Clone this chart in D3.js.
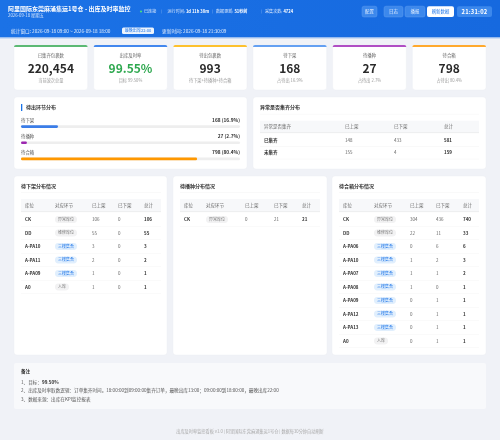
<!DOCTYPE html>
<html lang="zh"><head><meta charset="utf-8">
<script src="https://cdn.jsdelivr.net/npm/d3@7/dist/d3.min.js"></script>
<style>html,body{margin:0;padding:0;background:#f0f2f7;overflow:hidden}svg{display:block;filter:blur(.3px)}text{font-family:"Noto Sans CJK SC","Noto Sans",sans-serif}</style>
</head><body><div id="c"></div>
<script>
const kpiLabels=["已集齐包裹数","出库及时率","待出包裹数","待下架","待播种","待合箱"];
const kpiValues=["220,454","99.55%","993","168","27","798"];
const kpiSubs=["当前波次总量","目标 99.50%","待下架+待播种+待合箱","占待出 16.9%","占待出 2.7%","占待出 80.4%"];
const kpiColors=["#5cb974","#4287ee","#fdc12e","#64a0f2","#b04fc4","#ffa92e"];
const stageNames=["待下架","待播种","待合箱"];
const stageCounts=[168,27,798];
const stageShares=[16.9,2.7,80.4];
const stageColors=["#3b7de8","#9c27b0","#ff9800"];
const abnormalRows=[["已集齐",148,433,581],["未集齐",155,4,159]];
const abnormalHead=["异常是否集齐","已上架","已下架","总计"];
const tableHead=["库位","对应环节","已上架","已下架","总计"];
const pickRows=[["CK","异常库位",106,0,106],["DD","维修库位",55,0,55],["A-PA10","三楼集合",3,0,3],["A-PA11","三楼集合",2,0,2],["A-PA09","三楼集合",1,0,1],["A0","入库",1,0,1]];
const seedRows=[["CK","异常库位",0,21,21]];
const packRows=[["CK","异常库位",304,436,740],["DD","维修库位",22,11,33],["A-PA06","三楼集合",0,6,6],["A-PA10","三楼集合",1,2,3],["A-PA07","三楼集合",1,1,2],["A-PA08","三楼集合",1,0,1],["A-PA09","三楼集合",0,1,1],["A-PA12","三楼集合",0,1,1],["A-PA13","三楼集合",0,1,1],["A0","入库",0,1,1]];
const noteLines=["1、目标：","2、出库及时率取数逻辑：订单集齐时间。18:00:00到09:00:00集齐订单，最晚出库13:00；09:00:00到18:00:00，最晚出库22:00","3、数据来源：出库在KPI监控报表"];

const W=500,H=440;
const svg=d3.select("#c").append("svg").attr("width",W).attr("height",H).attr("viewBox",[0,0,W,H]);
const defs=svg.append("defs");
const g=defs.append("linearGradient").attr("id","hd").attr("x1",0).attr("x2",1).attr("y1",0).attr("y2",0);
g.append("stop").attr("offset",0).attr("stop-color","#1b72e6");g.append("stop").attr("offset",1).attr("stop-color","#1669df");
const T=(x,y,s,o={})=>svg.append("text").attr("x",x).attr("y",y).attr("dy","0.35em").attr("font-size",o.fs||4).attr("fill",o.c||"#333").attr("font-weight",o.w||400).attr("text-anchor",o.a||"start").attr("opacity",o.op==null?1:o.op).text(s);
const R=(x,y,w,h,f,r=0,o={})=>svg.append("rect").attr("x",x).attr("y",y).attr("width",w).attr("height",h).attr("rx",r).attr("fill",f).attr("stroke",o.s||"none").attr("stroke-width",o.sw||0).attr("opacity",o.op==null?1:o.op);
const card=(x,y,w,h)=>R(x,y,w,h,"#fff",3,{s:"#eceef3",sw:.4});

R(0,0,W,H,"#f0f2f7");
// header
R(0,0,W,37.5,"url(#hd)");
R(0,37.5,W,1,"#a9c8f2");
T(8,9,"阿里国际东莞麻涌集运1号仓 - 出库及时率监控",{fs:6,w:700,c:"#fff"});
T(8,15.7,"2026-09-18 星期五",{fs:4.3,c:"#d5e5fb"});
svg.append("circle").attr("cx",141).attr("cy",11.5).attr("r",1.1).attr("fill","#4ade80");
T(144,11.5,"已连接",{fs:4.1,c:"#e3eefd"});
const headerStats=[[167.5,"运行时间: ","1d 11h 38m"],[216,"数据更新: ","51秒前"],[265,"采集次数: ","4724"]];
headerStats.forEach(([x,a,b])=>{const t=T(x,11.5,a,{fs:4.1,c:"#dbe8fc"});t.append("tspan").attr("font-weight",700).attr("fill","#fff").text(b);});
[161.5,212.5,261].forEach(x=>R(x,9.5,.3,4,"#8fb8f2"));
[[362,15,"配置"],[384,19,"日志"],[405,20,"播报"]].forEach(([x,w,s])=>{R(x,6.2,w,10.8,"#3c88ec",2,{s:"#6aa3f0",sw:.4});T(x+w/2,11.6,s,{fs:4.4,c:"#e6f0fe",a:"middle"});});
R(427,6.2,27,10.8,"#fff",2);T(440.5,11.6,"刷新数据",{fs:4.4,c:"#1a73e8",a:"middle"});
R(457,6.2,35,10.8,"#3c88ec",2);T(474.5,11.6,"21:31:02",{fs:5.8,w:700,c:"#fff",a:"middle"}).attr("letter-spacing",.2);
T(11,31,"统计窗口: 2026-09-18 09:00 ~ 2026-09-18 18:00",{fs:4.7,c:"#e3eefd"});
R(122,27.6,32,6.4,"#fff",1.5,{op:.92});T(138,30.8,"最晚出库22:00",{fs:4.1,c:"#1a73e8",a:"middle"});
T(162,31,"更新时间: 2026-09-18 21:30:09",{fs:4.7,c:"#e3eefd"});

// KPI cards
const kpiX=d3.scaleBand().domain(d3.range(kpiLabels.length)).range([14,486]).paddingInner(.0755);
kpiLabels.forEach((l,i)=>{
  const x=kpiX(i),w=kpiX.bandwidth();
  card(x,45,w,45);
  svg.append("path").attr("d",`M${x},47 a2,2 0 0 1 2,-2 h${w-4} a2,2 0 0 1 2,2 Z`).attr("fill",kpiColors[i]);
  T(x+w/2,55.3,l,{fs:4.4,c:"#666",a:"middle"});
  T(x+w/2,68.5,kpiValues[i],{fs:12,w:700,c:i===1?"#2ea84f":"#2a2a2a",a:"middle"});
  T(x+w/2,80.2,kpiSubs[i],{fs:4.2,c:"#9a9a9a",a:"middle"});
});

// stage bars
card(14,97,233,72);
R(21,104,1.3,7,"#1a73e8");
T(26,107.6,"待出环节分布",{fs:5,w:700,c:"#333"});
const barX=d3.scaleLinear().domain([0,100]).range([21,240]);
const stageY=d3.scalePoint().domain(d3.range(stageNames.length)).range([120.3,152.7]);
stageNames.forEach((n,i)=>{
  const y=stageY(i);
  T(21,y,n,{fs:4.4,c:"#555"});
  T(240,y,`${stageCounts[i]} (${stageShares[i]}%)`,{fs:4.8,w:700,c:"#333",a:"end"});
  R(barX(0),y+4.9,barX(100)-barX(0),2.7,"#eeeeee",1.3);
  R(barX(0),y+4.9,barX(stageShares[i])-barX(0),2.7,stageColors[i],1.3);
});

// generic table
function table(o){
  const {x0,x1,titleY,title,head,rows,cols,headTop,headBot,rowY0,step}=o;
  T(x0,titleY,title,{fs:5,w:700,c:"#333"});
  R(x0,titleY+6.2,x1-x0,.4,"#f0f0f0");
  R(x0,headTop,x1-x0,headBot-headTop,"#f7f8fa");
  R(x0,headBot-.5,x1-x0,.6,"#e6e6e6");
  head.forEach((h,i)=>T(cols[i],(headTop+headBot)/2,h,{fs:4.5,c:"#666"}));
  const y=d3.scaleLinear().domain([0,1]).range([rowY0,rowY0+step]);
  rows.forEach((r,ri)=>{
    const cy=y(ri);
    R(x0,cy+step/2-.2,x1-x0,.4,"#f1f1f1");
    r.forEach((v,ci)=>{
      if(o.pill&&ci===1){
        const blue=String(v).startsWith("三楼");
        const w=v.length*4+6;
        R(cols[1],cy-3.4,w,6.8,blue?"#e1effd":"#f2f2f3",3.4);
        T(cols[1]+w/2,cy,v,{fs:4,a:"middle",c:blue?"#1a73e8":"#777"});
      } else {
        const last=ci===r.length-1,first=ci===0;
        T(cols[ci],cy,v,{fs:4.5,w:(last||first)?700:400,c:(last||first)?"#333":"#666"});
      }
    });
  });
}
card(253,97,233,72);
table({x0:260,x1:479,titleY:107.7,title:"异常是否集齐分布",head:abnormalHead,rows:abnormalRows,cols:[264,345,394,444],headTop:120.7,headBot:133,rowY0:140,step:12.7});

card(14,176,153,179);card(173,176,154,179);card(332,176,154,179);
const common={titleY:186,head:tableHead,headTop:199,headBot:212,rowY0:219.5,step:13.5,pill:true};
table({...common,x0:21,x1:161,title:"待下架分布情况",rows:pickRows,cols:[25,55,92,118,144]});
table({...common,x0:180,x1:320,title:"待播种分布情况",rows:seedRows,cols:[184,206,245,274,302]});
table({...common,x0:339,x1:479,title:"待合箱分布情况",rows:packRows,cols:[343,374,410,436,463]});

// notes
R(14,363,472,46,"#f8f9fb",2);
T(21,371,"备注",{fs:4.6,w:700,c:"#333"});
const n0=T(21,382,noteLines[0],{fs:4.6,c:"#555"});n0.append("tspan").attr("font-weight",700).attr("fill","#333").text("99.50%");
T(21,390.7,noteLines[1],{fs:4.6,c:"#555"});
T(21,399,noteLines[2],{fs:4.6,c:"#555"});
T(250,432,"出库及时率监控看板 v1.0 | 阿里国际东莞麻涌集运1号仓 | 数据每30分钟自动刷新",{fs:4.2,c:"#a8a8a8",a:"middle"});
</script></body></html>
